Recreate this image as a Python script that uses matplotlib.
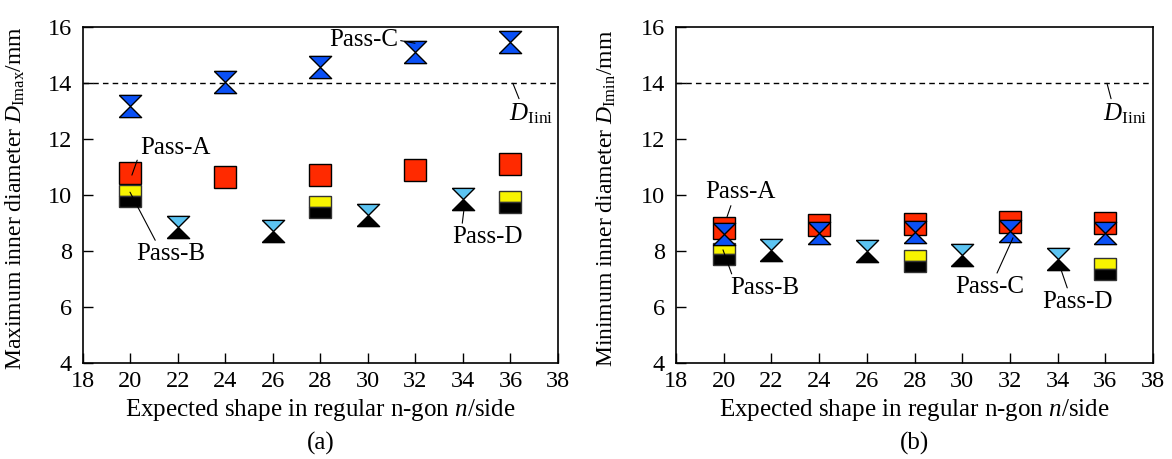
import matplotlib
matplotlib.use("Agg")
import matplotlib.pyplot as plt

# --- fonts: Times-like serif for everything ---
plt.rcParams['font.family'] = ['Liberation Serif', 'DejaVu Serif']
plt.rcParams['mathtext.fontset'] = 'custom'
plt.rcParams['mathtext.rm'] = 'Liberation Serif'
plt.rcParams['mathtext.it'] = 'Liberation Serif:italic'

# ---------------------------
# Data
# ---------------------------
n_AC = [20, 24, 28, 32, 36]
n_B = [20, 28, 36]
n_D = [22, 26, 30, 34]

dmax_A = [10.80, 10.64, 10.73, 10.88, 11.09]
dmax_B = [9.97, 9.57, 9.75]
dmax_C = [13.17, 14.03, 14.56, 15.10, 15.45]
dmax_D = [8.84, 8.72, 9.30, 9.87]

dmin_A = [8.83, 8.92, 8.95, 9.04, 9.01]
dmin_B = [7.88, 7.64, 7.34]
dmin_C = [8.59, 8.65, 8.69, 8.71, 8.64]
dmin_D = [8.05, 8.00, 7.87, 7.73]

D_INI = 14.0

RED = "#ff2a00"
YELLOW = "#f8f400"
BLUE = "#0a50f5"
LIGHTBLUE = "#5cc4f2"

# hourglass halves: apex sits on the data point
TOP_TRI = [(-1, 1), (1, 1), (0, 0), (-1, 1)]
BOT_TRI = [(-1, -1), (1, -1), (0, 0), (-1, -1)]

MS = 16
MEW = 1.0
FS = 18
TICK_FS = 17.5
YLAB_FS = 17


def draw_hourglass(ax, x, y, top_color, bottom_color):
    ax.plot(x, y, ls="none", marker=TOP_TRI, ms=MS, mfc=top_color, mec="black", mew=MEW)
    ax.plot(x, y, ls="none", marker=BOT_TRI, ms=MS, mfc=bottom_color, mec="black", mew=MEW)


def draw_panel(ax, A, B, C, D, ylabel, notes, caption, ylab_x):
    ax.axhline(D_INI, color="black", ls=(0, (4, 3)), lw=1.0, zorder=1)

    ax.plot(n_AC, A, ls="none", marker="s", ms=MS, mfc=RED, mec="black", mew=MEW)
    ax.plot(n_B, B, ls="none", marker="s", ms=MS, fillstyle="top",
            mfc=YELLOW, mfcalt="black", mec="#333333", mew=MEW)
    draw_hourglass(ax, n_AC, C, BLUE, BLUE)
    draw_hourglass(ax, n_D, D, LIGHTBLUE, "black")

    ax.set_xlim(18, 38)
    ax.set_ylim(4, 16)
    ax.set_xticks(range(18, 39, 2))
    ax.set_yticks(range(4, 17, 2))
    ax.tick_params(direction="in", length=7, width=1.0, labelsize=TICK_FS,
                   top=False, right=False)
    ax.tick_params(axis="x", pad=6)
    ax.tick_params(axis="y", pad=8)
    for sp in ax.spines.values():
        sp.set_linewidth(1.2)

    ax.set_xlabel("Expected shape in regular n-gon $n$/side", fontsize=FS)
    ax.xaxis.set_label_coords(0.5, -0.10)
    ax.set_ylabel(ylabel, fontsize=YLAB_FS)
    ax.yaxis.set_label_coords(ylab_x, 0.49)

    for text, xy, xytext, ha, relpos in notes:
        ax.annotate(text, xy=xy, xytext=xytext, ha=ha, va="center", fontsize=FS,
                    arrowprops=dict(arrowstyle="-", lw=0.8, color="black",
                                    shrinkA=0, shrinkB=0, relpos=relpos))

    ax.text(0.5, -0.24, caption, transform=ax.transAxes, ha="center", va="center",
            fontsize=FS)


fig = plt.figure(figsize=(11.72, 4.59), dpi=100)
ax_a = fig.add_axes([0.0708, 0.2092, 0.4053, 0.7320])
ax_b = fig.add_axes([0.5768, 0.2092, 0.4070, 0.7320])

notes_a = [
    ("Pass-A", (20.06, 10.71), (20.40, 11.68), "left", (0.0, 0.3)),
    ("Pass-B", (19.98, 10.10), (20.23, 7.89), "left", (0.3, 1.0)),
    ("Pass-C", (31.98, 15.42), (31.26, 15.53), "right", (1.0, 0.5)),
    ("Pass-D", (34.04, 9.47), (33.54, 8.50), "left", (0.14, 1.0)),
    ("$D_{\\rm Iini}$", (36.10, 13.99), (35.94, 12.90), "left", (0.25, 1.0)),
]
notes_b = [
    ("Pass-A", (20.14, 9.22), (19.22, 10.11), "left", (0.38, 0.0)),
    ("Pass-B", (19.97, 8.04), (20.26, 6.69), "left", (0.04, 1.0)),
    ("Pass-C", (32.13, 8.47), (29.70, 6.72), "left", (0.59, 1.0)),
    ("Pass-D", (34.10, 7.44), (33.35, 6.19), "left", (0.37, 1.0)),
    ("$D_{\\rm Iini}$", (36.07, 13.99), (35.90, 12.90), "left", (0.2, 1.0)),
]

draw_panel(ax_a, dmax_A, dmax_B, dmax_C, dmax_D,
           "Maximum inner diameter $D_{\\rm Imax}$/mm", notes_a, "(a)", -0.118)
draw_panel(ax_b, dmin_A, dmin_B, dmin_C, dmin_D,
           "Minimum inner diameter $D_{\\rm Imin}$/mm", notes_b, "(b)", -0.122)

fig.savefig("out.png", dpi=100)
